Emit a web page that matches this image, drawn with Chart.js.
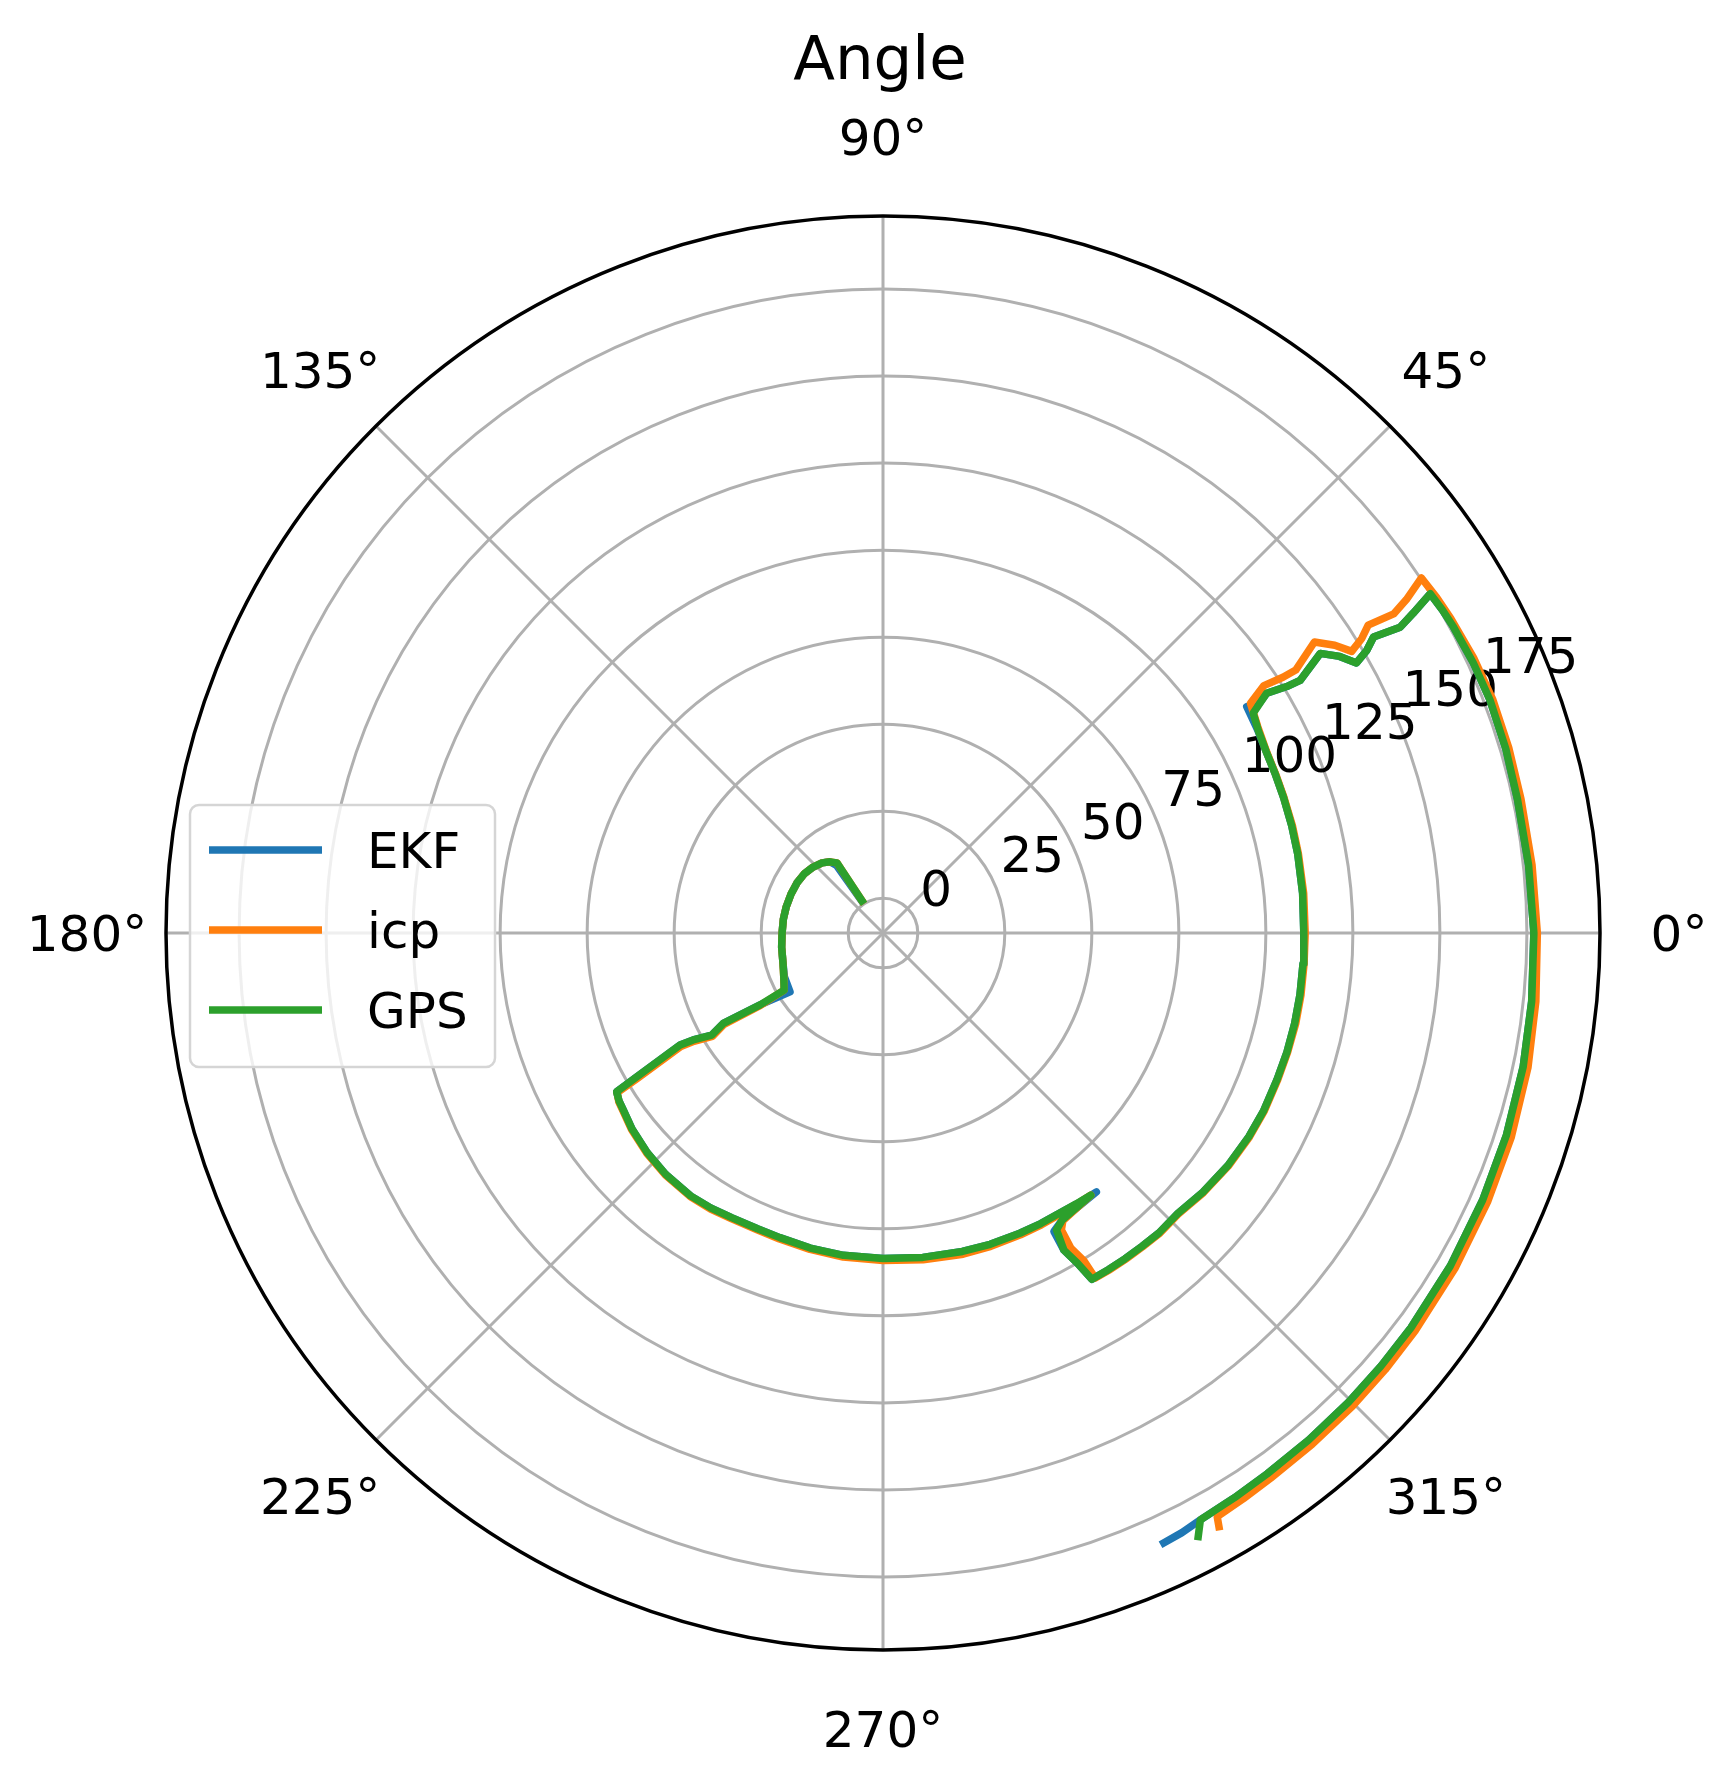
<!DOCTYPE html>
<html>
<head>
<meta charset="utf-8">
<script src="https://cdn.jsdelivr.net/npm/chart.js@4/dist/chart.umd.min.js"></script>
<style>
  html, body { margin: 0; padding: 0; background: #fff; }
</style>
</head>
<body>
<canvas id="chart" width="1726" height="1782"></canvas>
<script>
// chart text and axes
var TITLE = 'Angle';
var thetaTicks = [0, 45, 90, 135, 180, 225, 270, 315];
var thetaLabels = ['0°', '45°', '90°', '135°', '180°', '225°', '270°', '315°'];
var rTicks = [0, 25, 50, 75, 100, 125, 150, 175];
var rTickLabels = ['0', '25', '50', '75', '100', '125', '150', '175'];
var rMin = -10, rMax = 196;
var rLabelAngle = 22.5;

// [theta in degrees, r]
var ekfPath = [[123.5,0.5],[124.5,13.5],[126.7,15.5],[131,16.7],[136.7,17.6],[143,18.3],[149.8,18.6],[157,18.7],[164.8,18.8],[172,18.9],[180,19.0],[188,19.4],[196.7,20.0],[204,21.0],[212.3,21.6],
    [210.3,30.9],[209.5,42.7],[210.8,47.3],[209.4,52.6],[208.9,56.6],[210.3,71.9],[210.8,79.1],
    [212.5,79.9],[214.3,80.3],[218,81.5],[223,82.6],[228,83.3],[233.8,83.6],[238,83.2],[242.1,82.6],[247,82.3],[251.3,82.4],[257,82.9],[263,83.3],[270,83.5],[277,83.9],[284,84.3],[289,84.6],[294.5,84.8],[298.5,85.0],[302.7,85.2],[305.5,85.7],[309.5,86.4],
    [302.0,87.2],[299.8,88.8],[299.7,94.9],[300.5,100.1],[301.1,106.2],
    [303.8,106.4],[306.6,106.6],[309.6,106.8],[312.6,107.1],[316.4,106.9],[321,108.3],[326,109.5],[330.9,110.3],[335,110.7],[339.6,110.8],[343.6,111.0],[347.6,111.1],[351.6,111.1],[355.8,111.0],[0,110.9],[5.4,111.1],[10.8,111.3],[14.7,111.4],[18.7,111.5],[22,111.6],[25.3,111.8],[28.3,112.4],[31.9,113.1],
    [30.9,114.0],[32.0,120.0],[31.4,125.9],[31.2,130.1],[32.6,139.1],[31.2,143.4],[29.7,146.6],[30.3,151.0],[31.1,154.6],[30.6,162.6],[31.1,167.9],[31.8,175.0],
    [30,175.6],[28.2,176.0],[24.6,176.5],[21.0,176.8],[16.5,176.6],[11.9,176.3],[6,176.5],[0,177.0],[354,177.4],[348.2,177.9],[342,178.3],[336,178.6],[329.6,179.0],[323.2,179.4],[319,179.6],[314.8,179.9],[310,180.2],[305.4,180.6],[301.9,181.1],[298.4,181.7],[296.5,182.5],[294.4,183.0]];
var icpPath = [[123,0],[123.3,14.1],[126.7,15.5],[131,16.7],[136.7,17.6],[143,18.3],[149.8,18.6],[157,18.7],[164.8,18.8],[172,18.9],[180,19.0],[188,19.4],[196.7,20.0],[204,21.2],[210,22.8],
    [210.6,30.9],[209.9,42.7],[211.2,47.3],[209.8,52.6],[209.3,56.6],[210.6,71.9],[211.0,79.1],
    [212.6,80.1],[214.3,80.5],[218,81.7],[223,82.8],[228,83.5],[233.8,83.8],[238,83.5],[242.1,82.9],[247,82.6],[251.3,82.8],[257,83.3],[263,83.8],[270,84.1],[277,84.6],[284,85.1],[289,85.2],[294.5,85.3],[298.5,85.4],[302.7,85.5],[305.5,85.8],[308.4,86.1],
    [302.0,87.5],[301.0,89.5],[300.8,95.3],[301.5,100.4],[301.6,106.4],
    [303.8,106.6],[306.6,106.8],[309.6,107.0],[312.6,107.3],[316.4,107.1],[321,108.5],[326,109.7],[330.9,110.5],[335,110.9],[339.6,111.0],[343.6,111.2],[347.6,111.4],[351.6,111.4],[355.8,111.3],[0,111.3],[5.4,111.4],[10.8,111.5],[14.7,111.6],[18.7,111.6],[22,111.7],[25.3,111.9],[28.8,112.9],[32.0,114.5],
    [33.0,120.5],[32.6,126.4],[32.5,130.6],[34.0,139.5],[32.5,143.9],[31.0,147.1],[31.6,151.5],[32.4,155.1],[32.0,163.0],[32.5,168.3],[33.4,175.3],
    [31.2,176.0],[29.0,176.5],[25,177.2],[21.0,177.6],[16.5,177.5],[11.9,177.3],[6,177.5],[0,178.0],[354,178.6],[348.2,179.3],[342,179.8],[336,180.1],[329.6,180.5],[323.2,180.9],[319,181.2],[314.8,181.5],[310,181.8],[305.4,182.2],[302.5,182.7],[299.8,183.2],[299.4,187.0]];
var gpsPath = [[123,0],[123.3,14.1],[126.7,15.5],[131,16.7],[136.7,17.6],[143,18.3],[149.8,18.6],[157,18.7],[164.8,18.8],[172,18.9],[180,19.0],[188,19.4],[196.7,20.0],[204,21.2],[210,22.8],
    [210.3,30.9],[209.5,42.7],[210.8,47.3],[209.4,52.6],[208.9,56.6],[210.3,71.9],[210.8,79.1],
    [212.5,79.9],[214.3,80.3],[218,81.5],[223,82.6],[228,83.3],[233.8,83.6],[238,83.2],[242.1,82.6],[247,82.3],[251.3,82.4],[257,82.9],[263,83.3],[270,83.5],[277,83.9],[284,84.3],[289,84.6],[294.5,84.8],[298.5,85.0],[302.7,85.2],[305.5,85.6],[308.4,86.1],
    [302.0,87.2],[300.3,88.8],[299.7,94.9],[300.5,100.1],[301.1,106.2],
    [303.8,106.4],[306.6,106.6],[309.6,106.8],[312.6,107.1],[316.4,106.9],[321,108.3],[326,109.5],[330.9,110.3],[335,110.7],[339.6,110.8],[343.6,111.0],[347.6,111.1],[351.6,111.1],[355.8,111.0],[0,110.9],[5.4,111.1],[10.8,111.3],[14.7,111.4],[18.7,111.5],[22,111.6],[25.3,111.8],[28.3,112.5],[30.7,113.7],
    [32.0,120.0],[31.4,125.9],[31.2,130.1],[32.6,139.1],[31.2,143.4],[29.7,146.6],[30.3,151.0],[31.1,154.6],[30.6,162.6],[31.1,167.9],[31.8,175.0],
    [30,175.6],[28.2,176.0],[24.6,176.5],[21.0,176.8],[16.5,176.6],[11.9,176.3],[6,176.5],[0,177.0],[354,177.4],[348.2,177.9],[342,178.3],[336,178.6],[329.6,179.0],[323.2,179.4],[319,179.6],[314.8,179.9],[310,180.2],[305.4,180.6],[301.9,181.1],[298.4,181.7],[297.4,186.5]];

var seriesNames = ['EKF', 'icp', 'GPS'];
var seriesColors = ['#1f77b4', '#ff7f0e', '#2ca02c'];

var FONT = "'DejaVu Sans', 'Liberation Sans', sans-serif";

//polar (theta, r) -> cartesian values for the linear x/y scales
function toXY(path) {
    return path.map(function (p) {
        var a = p[0] * Math.PI / 180;
        var rr = p[1] - rMin;
        return {x: rr * Math.cos(a), y: rr * Math.sin(a)};
    });
}

var polarFrame = {
    id: 'polarFrame',
    geom: function (chart) {
        var xs = chart.scales.x, ys = chart.scales.y;
        var cx = xs.getPixelForValue(0), cy = ys.getPixelForValue(0);
        return {
            cx: cx, cy: cy,
            rad: function (v) { return xs.getPixelForValue(v - rMin) - cx; },
            outer: xs.getPixelForValue(rMax - rMin) - cx
        };
    },
    beforeDatasetsDraw: function (chart) {
        var ctx = chart.ctx, g = this.geom(chart);
        ctx.save();
        ctx.strokeStyle = '#b0b0b0';
        ctx.lineWidth = 3;
        //radial grid circles
        rTicks.forEach(function (v) {
            ctx.beginPath();
            ctx.arc(g.cx, g.cy, g.rad(v), 0, 2 * Math.PI);
            ctx.stroke();
        });
        //angle spokes
        thetaTicks.forEach(function (t) {
            var a = t * Math.PI / 180;
            ctx.beginPath();
            ctx.moveTo(g.cx, g.cy);
            ctx.lineTo(g.cx + g.outer * Math.cos(a), g.cy - g.outer * Math.sin(a));
            ctx.stroke();
        });
        //radial tick labels
        ctx.fillStyle = '#000';
        ctx.font = '50px ' + FONT;
        ctx.textAlign = 'left';
        ctx.textBaseline = 'alphabetic';
        var la = rLabelAngle * Math.PI / 180;
        rTicks.forEach(function (v, i) {
            var R = g.rad(v);
            ctx.fillText(rTickLabels[i], g.cx + R * Math.cos(la) + 5, g.cy - R * Math.sin(la) - 14);
        });
        ctx.restore();
    },
    afterDatasetsDraw: function (chart) {
        var ctx = chart.ctx, g = this.geom(chart);
        ctx.save();
        //outer spine
        ctx.strokeStyle = '#000';
        ctx.lineWidth = 3.5;
        ctx.beginPath();
        ctx.arc(g.cx, g.cy, g.outer, 0, 2 * Math.PI);
        ctx.stroke();
        //angle labels
        ctx.fillStyle = '#000';
        ctx.font = '50px ' + FONT;
        ctx.textAlign = 'center';
        ctx.textBaseline = 'alphabetic';
        var lr = g.outer + 79;
        thetaTicks.forEach(function (t, i) {
            var a = t * Math.PI / 180;
            ctx.fillText(thetaLabels[i], g.cx + lr * Math.cos(a), g.cy - lr * Math.sin(a) + 18);
        });
        //title
        ctx.font = '61px ' + FONT;
        ctx.fillText(TITLE, g.cx - 3, 79);
        //legend box
        var bx = 190, by = 805, bw = 305, bh = 262, br = 9;
        ctx.beginPath();
        ctx.moveTo(bx + br, by);
        ctx.arcTo(bx + bw, by, bx + bw, by + bh, br);
        ctx.arcTo(bx + bw, by + bh, bx, by + bh, br);
        ctx.arcTo(bx, by + bh, bx, by, br);
        ctx.arcTo(bx, by, bx + bw, by, br);
        ctx.closePath();
        ctx.fillStyle = 'rgba(255,255,255,0.8)';
        ctx.fill();
        ctx.strokeStyle = '#d5d5d5';
        ctx.lineWidth = 2.5;
        ctx.stroke();
        ctx.textAlign = 'left';
        ctx.font = '50px ' + FONT;
        chart.data.datasets.forEach(function (ds, i) {
            var y = 850 + i * 80;
            ctx.strokeStyle = ds.borderColor;
            ctx.lineWidth = 7.5;
            ctx.beginPath();
            ctx.moveTo(209, y);
            ctx.lineTo(322, y);
            ctx.stroke();
            ctx.fillStyle = '#000';
            ctx.fillText(ds.label, 367, y + 18);
        });
        ctx.restore();
    }
};

var paths = [ekfPath, icpPath, gpsPath];
var datasets = paths.map(function (p, i) {
    return {
        label: seriesNames[i],
        data: toXY(p),
        showLine: true,
        fill: false,
        borderColor: seriesColors[i],
        backgroundColor: seriesColors[i],
        borderWidth: 7.5,
        pointRadius: 0,
        tension: 0,
        borderJoinStyle: 'round',
        borderCapStyle: 'butt',
        order: 3 - i
    };
});

var span = rMax - rMin;
new Chart(document.getElementById('chart'), {
    type: 'scatter',
    data: {datasets: datasets},
    options: {
        responsive: false,
        animation: false,
        layout: {padding: {left: 166, right: 126, top: 216, bottom: 132}},
        scales: {
            x: {type: 'linear', min: -span, max: span, display: false},
            y: {type: 'linear', min: -span, max: span, display: false}
        },
        plugins: {
            legend: {display: false},
            title: {display: false},
            tooltip: {enabled: false}
        }
    },
    plugins: [polarFrame]
});
</script>
</body>
</html>
